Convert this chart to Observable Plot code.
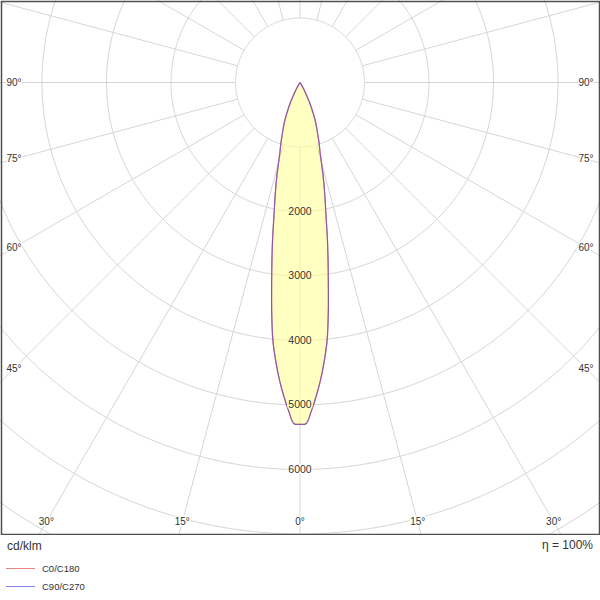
<!DOCTYPE html>
<html>
<head>
<meta charset="utf-8">
<script src="https://cdn.jsdelivr.net/npm/d3@7"></script>
<script src="https://cdn.jsdelivr.net/npm/@observablehq/plot@0.6"></script>
<style>
  body { margin: 0; background: #fff; font-family: "Liberation Sans", Arial, sans-serif; color: #333; }
  #wrap { position: relative; width: 600px; height: 600px; overflow: hidden; }
  #wrap svg { position: absolute; left: 0; top: 0; display: block; }
  .t { position: absolute; white-space: nowrap; }
  .row { position: absolute; left: 6px; height: 14px; display: flex; align-items: center; font-size: 9.5px; }
  .row .ln { width: 29px; height: 1px; margin-right: 7px; opacity: 0.75; }
</style>
</head>
<body>
<div id="wrap"></div>
<script>
// ---- data (cd/klm) ----
const gamma   = [0, 1, 2, 3, 4, 5, 6, 7, 8, 9, 10, 11, 12, 13, 14, 15, 16, 17, 18, 19, 20, 22, 24, 26, 28, 30, 32, 34, 180];
const c0c180  = [5300, 5290, 5090, 4860, 4610, 4330, 4020, 3600, 3160, 2780, 2440, 2120, 1880, 1670, 1475, 1285, 1130, 1030, 935, 840, 765, 617, 454, 311, 183, 90, 30, 0, 0];
const c90c270 = [5300, 5290, 5090, 4860, 4610, 4330, 4020, 3600, 3160, 2780, 2440, 2120, 1880, 1670, 1475, 1285, 1130, 1030, 935, 840, 765, 617, 454, 311, 183, 90, 30, 0, 0];
const seriesNames = ["C0/C180", "C90/C270"];
const seriesColors = ["#e05a5a", "#5a5ae0"];
const rings = [1000, 2000, 3000, 4000, 5000, 6000, 7000, 8000, 9000];
const ringLabels = [2000, 3000, 4000, 5000, 6000];
const radialAngles = [0, 15, 30, 45, 60, 75, 90, 105, 120, 135, 150, 165, 180, 195, 210, 225, 240, 255, 270, 285, 300, 315, 330, 345];
const sideAngleLabels = [45, 60, 75, 90];
const bottomAngleLabels = [0, 15, 30];
const unitLabel = "cd/klm";
const effLabel = "η = 100%";

// ---- layout ----
const W = 600, H = 535;
const cx = 299.5, cy = 82;          // pole position in px
const ppu = 64.5 / 1000;            // px per cd/klm
const sideInset = 286, bottomInset = 439.3;
const rad = Math.PI / 180;
const pol = (I, g) => ({x: I * Math.sin(g * rad), y: -I * Math.cos(g * rad)});

// grid circles
const ringPts = [];
for (const v of rings) for (let a = 0; a <= 360; a += 1) ringPts.push({...pol(v, a), ring: v});
// radial lines
const radials = radialAngles.map(a => {
  const p1 = pol(rings[0], a), p2 = pol(12000, a);
  return {x1: p1.x, y1: p1.y, x2: p2.x, y2: p2.y};
});
// curves (mirror for the opposite half-plane)
function curve(vals) {
  const pts = [];
  for (let i = gamma.length - 1; i >= 0; i--) pts.push(pol(vals[i], -gamma[i]));
  for (let i = 1; i < gamma.length; i++) pts.push(pol(vals[i], gamma[i]));
  return pts;
}
const curveA = curve(c0c180), curveB = curve(c90c270);

// angle labels
const angleLbl = [];
const Xs = sideInset / ppu, Yb = bottomInset / ppu;
for (const a of sideAngleLabels) {
  const yv = -Xs * Math.cos(a * rad) / Math.sin(a * rad);
  angleLbl.push({x: -Xs, y: yv, t: a + "°"});
  angleLbl.push({x: Xs, y: yv, t: a + "°"});
}
for (const a of bottomAngleLabels) {
  const xv = Yb * Math.tan(a * rad);
  angleLbl.push({x: -xv, y: -Yb, t: a + "°"});
  if (a !== 0) angleLbl.push({x: xv, y: -Yb, t: a + "°"});
}
const peak = Math.max(...c0c180);
const innerLbl = ringLabels.filter(v => v < peak);
const outerLbl = ringLabels.filter(v => v >= peak);

const chart = Plot.plot({
  width: W, height: H, margin: 0,
  style: {fontFamily: '"Liberation Sans", Arial, sans-serif', fontSize: "10px", background: "white", color: "#333"},
  x: {domain: [-cx / ppu, (W - cx) / ppu], range: [0, W], axis: null},
  y: {domain: [-(H - cy) / ppu, cy / ppu], range: [H, 0], axis: null},
  marks: [
    Plot.line(ringPts, {x: "x", y: "y", z: "ring", stroke: "#d6d6d6", strokeWidth: 1, clip: true}),
    Plot.link(radials, {x1: "x1", y1: "y1", x2: "x2", y2: "y2", stroke: "#d6d6d6", strokeWidth: 1, clip: true}),
    Plot.line(curveA, {x: "x", y: "y", fill: "#ffff99", fillOpacity: 0.6, stroke: "none", curve: "catmull-rom"}),
    Plot.line(curveA, {x: "x", y: "y", stroke: seriesColors[0], strokeWidth: 1.2, curve: "catmull-rom"}),
    Plot.line(curveB, {x: "x", y: "y", stroke: seriesColors[1], strokeWidth: 1.2, strokeOpacity: 0.6, curve: "catmull-rom"}),
    Plot.text(innerLbl, {x: 0, y: d => -d, text: d => String(d), fill: "#333", stroke: "#ffffc2", strokeWidth: 3, fontSize: 10.5}),
    Plot.text(outerLbl, {x: 0, y: d => -d, text: d => String(d), fill: "#333", stroke: "white", strokeWidth: 3, fontSize: 10.5}),
    Plot.text(angleLbl, {x: "x", y: "y", text: "t", fill: "#333", stroke: "white", strokeWidth: 3, fontSize: 10}),
    Plot.frame({stroke: "#505050", strokeWidth: 1.5, inset: 1})
  ]
});
const wrap = document.getElementById("wrap");
wrap.appendChild(chart);

// footer: unit, efficiency, legend
const u = document.createElement("div");
u.className = "t"; u.style.cssText = "left:7px;top:538.5px;font-size:12px;line-height:14px;";
u.textContent = unitLabel; wrap.appendChild(u);
const e = document.createElement("div");
e.className = "t"; e.style.cssText = "right:7px;top:538px;font-size:12px;line-height:14px;";
e.textContent = effLabel; wrap.appendChild(e);
const rowCenters = [568, 586];
seriesNames.forEach((name, i) => {
  const r = document.createElement("div");
  r.className = "row"; r.style.top = (rowCenters[i] - 7) + "px";
  const ln = document.createElement("span"); ln.className = "ln"; ln.style.background = seriesColors[i];
  const tx = document.createElement("span"); tx.textContent = name;
  r.appendChild(ln); r.appendChild(tx); wrap.appendChild(r);
});
</script>
</body>
</html>
